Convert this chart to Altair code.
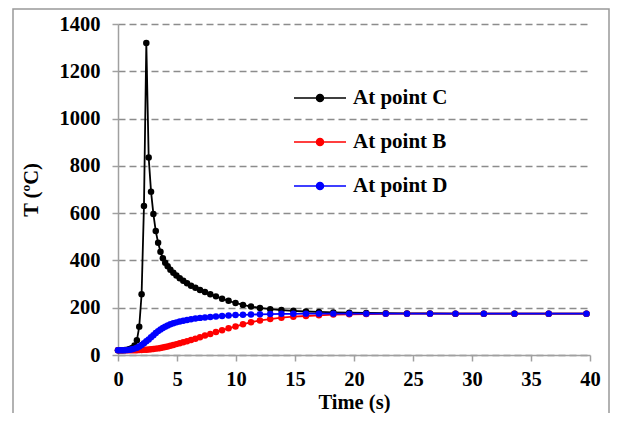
import altair as alt
import pandas as pd

time_s = [0, 0.2, 0.4, 0.6, 0.8, 1.0, 1.2, 1.4, 1.6, 1.8, 2.0, 2.2, 2.4, 2.6, 2.8, 3.0, 3.2, 3.4, 3.6, 3.8, 4.0,
          4.21, 4.44, 4.69, 4.95, 5.23, 5.53, 5.85, 6.19, 6.56, 6.95, 7.37, 7.82, 8.30, 8.82, 9.37, 9.96, 10.59,
          11.27, 12.03, 12.9, 13.85,
          14.86, 15.93, 17.03, 18.25, 19.6, 21.04, 22.69, 24.49, 26.44, 28.6, 31.0, 33.6, 36.5, 39.7]

temp_c = [20, 20, 20, 21, 22, 25, 30, 40, 62, 120, 257, 630, 1320, 835, 691, 596, 524, 475, 437, 409, 390,
          375, 361, 348, 336, 325, 314, 303, 293, 284, 275, 266, 257, 248, 238, 229, 220, 212, 205, 199, 194, 190,
          187, 184, 182, 180, 179, 178, 177, 176, 176, 175, 175, 175, 175, 175]

temp_b = [20, 20, 20, 20, 20, 20, 20, 20, 20, 21, 21, 22, 22, 23, 24, 25, 27, 28, 30, 32, 34,
          36, 39, 42, 46, 50, 54, 58, 63, 69, 75, 82, 89, 97, 105, 113, 121, 130, 139, 146, 152, 158,
          162, 165, 168, 171, 172, 173, 174, 175, 175, 175, 175, 175, 175, 175]

temp_d = [20, 20, 20, 20, 21, 22, 24, 27, 31, 36, 42, 50, 58, 66, 75, 84, 93, 101, 108, 114, 120,
          125, 130, 134, 138, 142, 145, 148, 151, 154, 157, 159, 161, 163, 165, 167, 169, 170, 171, 172, 173, 174,
          174, 175, 175, 175, 175, 175, 175, 175, 175, 175, 175, 175, 175, 175]

series_names = ["At point C", "At point B", "At point D"]
series_colors = ["#000000", "#ff0000", "#0000ff"]
x_ticks = [0, 5, 10, 15, 20, 25, 30, 35, 40]
y_ticks = [0, 200, 400, 600, 800, 1000, 1200, 1400]

rows = []
for name, vals in zip(series_names, [temp_c, temp_b, temp_d]):
    for t, v in zip(time_s, vals):
        rows.append({"time": t, "temp": v, "series": name})
df = pd.DataFrame(rows)

FONT = "'Liberation Serif', 'Times New Roman', Times, serif"
scale_c = alt.Scale(domain=series_names, range=series_colors)

x_enc = alt.X("time:Q", scale=alt.Scale(domain=[0, 40], nice=False),
              axis=alt.Axis(values=x_ticks, format="d", title="Time (s)", grid=False, labelFlush=False,
                            labelPadding=8, titlePadding=3,
                            labelFont=FONT, titleFont=FONT))
y_enc = alt.Y("temp:Q", scale=alt.Scale(domain=[0, 1400], nice=False),
              axis=alt.Axis(values=y_ticks, format="d", title="T (ºC)", grid=True, gridDash=[7, 4],
                            gridColor="#8c8c8c", gridWidth=1.5, labelPadding=12, titlePadding=18,
                            labelFont=FONT, titleFont=FONT))

base = alt.Chart(df)
lines = base.mark_line(strokeWidth=1.8).encode(
    x=x_enc, y=y_enc,
    stroke=alt.Stroke("series:N", scale=scale_c, legend=alt.Legend(title=None, labelFont=FONT)),
)
points = base.mark_circle(size=42, opacity=1).encode(
    x=x_enc, y=y_enc,
    fill=alt.Fill("series:N", scale=scale_c, legend=alt.Legend(title=None, labelFont=FONT)),
)

frame = alt.Chart(pd.DataFrame({"f": [0]})).mark_rect(filled=False, stroke="#999999", strokeWidth=1.5).encode(
    x=alt.value(-105), x2=alt.value(491), y=alt.value(-15), y2=alt.value(420)
)

chart = alt.layer(frame, lines, points).properties(
    width=472, height=331,
    padding={"left": 110, "top": 16, "right": 20, "bottom": 58},
    autosize=alt.AutoSizeParams(type="none"),
).configure(font=FONT).configure_view(stroke=None).configure_axis(
    domainColor="#a0a0a0", domainWidth=1.5, tickColor="#a0a0a0", tickWidth=1.5, tickSize=6,
    labelFont=FONT, labelFontSize=20.5, labelFontWeight="bold", labelColor="#000000",
    titleFont=FONT, titleFontSize=20.5, titleFontWeight="bold", titleColor="#000000",
).configure_legend(
    orient="none", legendX=188, legendY=60, padding=0,
    symbolType="M-2,0H2M0.27,0A0.27,0.27,0,1,1,-0.27,0A0.27,0.27,0,1,1,0.27,0",
    symbolSize=676, symbolStrokeWidth=1.5,
    labelFont=FONT, labelFontSize=21, labelFontWeight="bold", labelColor="#000000",
    labelOffset=19, rowPadding=20,
)

chart.save("out.html", embed_options={"renderer": "svg", "actions": False})
